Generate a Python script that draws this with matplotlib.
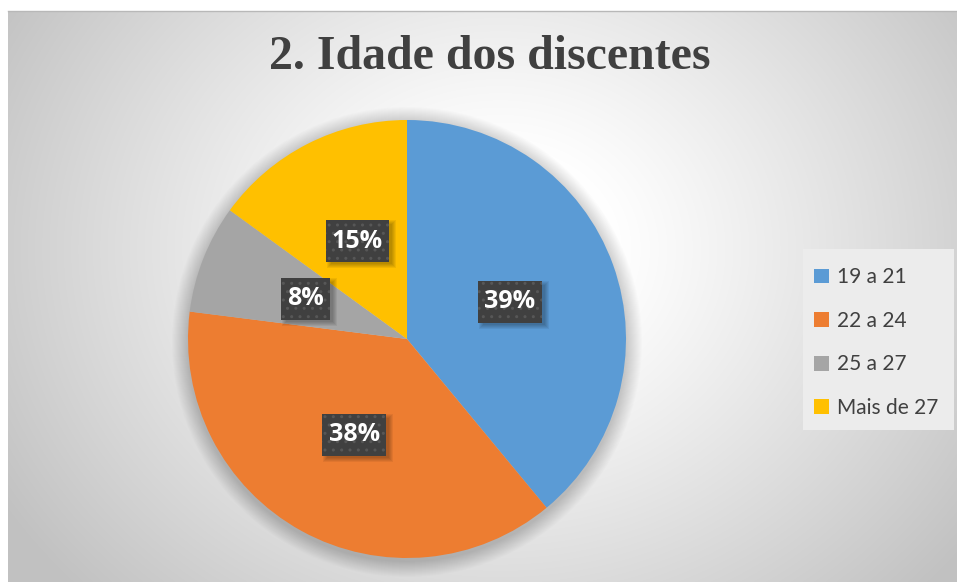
import numpy as np
import matplotlib
matplotlib.use("Agg")
import matplotlib.pyplot as plt
from matplotlib.patches import Circle, Rectangle

# Chart data
categories = ["19 a 21", "22 a 24", "25 a 27", "Mais de 27"]
shares = [39, 38, 8, 15]
colors = ["#5B9BD5", "#ED7D31", "#A5A5A5", "#FFC000"]
title = "2. Idade dos discentes"

W, H = 957, 582
fig = plt.figure(figsize=(W / 100, H / 100), dpi=100)
fig.patch.set_facecolor("white")

# Full-figure axes working in pixel units (y up)
ax = fig.add_axes([0, 0, 1, 1])
ax.set_xlim(0, W)
ax.set_ylim(0, H)
ax.set_aspect("equal")
ax.axis("off")

# Chart area with a radial grey-to-white background
x0, x1, y0, y1 = 8, W, 0, H - 11
yy, xx = np.mgrid[y0:y1, x0:x1]
cx, cy = 500, H - 250
r = np.hypot((xx - cx) / 1.0, (yy - cy) / 0.85)
t = np.clip((r - 110) / 470, 0, 1) ** 1.1
shade = 1.0 - 0.24 * t
img = np.dstack([shade, shade, shade])
ax.imshow(img, extent=(x0, x1, y0, y1), origin="lower", zorder=0,
          interpolation="bilinear")
ax.plot([x0, x1], [y1, y1], color="#b8b8b8", lw=1.0, zorder=1)

# Pie geometry
pcx, pcy, pr = 407, H - 339, 219

# Soft glow/shadow around the pie
for k in range(16):
    ax.add_patch(Circle((pcx, pcy - 3), pr + 16 - k, color="black",
                        alpha=0.012, lw=0, zorder=2))

wedges, _, autotexts = ax.pie(
    shares, colors=colors, startangle=90, counterclock=False,
    center=(pcx, pcy), radius=pr, autopct="%.0f%%", pctdistance=0.5,
    wedgeprops=dict(linewidth=0), frame=True,
    textprops=dict(color="white", fontsize=18, fontweight="bold",
                   family="Open Sans"))
for w in wedges:
    w.set_zorder(3)
ax.set_xlim(0, W)
ax.set_ylim(0, H)
ax.axis("off")

# Data labels: dark dotted boxes with a soft drop shadow
for t_ in autotexts:
    x, y = t_.get_position()
    label = t_.get_text()
    bw = 20 + 14.5 * len(label)
    bh = 42
    for k in range(5):
        ax.add_patch(Rectangle((x - bw / 2 + 5 - k, y - bh / 2 - 2 - k),
                               bw + 2 * k - 2, bh + 2 * k - 2, color="black",
                               alpha=0.06, lw=0, zorder=4))
    ax.add_patch(Rectangle((x - bw / 2, y - bh / 2), bw, bh,
                           facecolor="#404040", edgecolor="#575757",
                           hatch="..", lw=0, zorder=5))
    t_.set_zorder(6)
    t_.set_ha("center")
    t_.set_va("center")

# Title
ax.text(490, H - 57, title, ha="center", va="center", fontsize=34.5,
        fontweight="bold", family="Liberation Serif", color="#404040",
        zorder=7)

# Legend panel
ax.add_patch(Rectangle((803, H - 430), 151, 181, facecolor="#ececec",
                       edgecolor="none", zorder=1.5))
leg = ax.legend(wedges, categories, loc="upper left",
                bbox_to_anchor=(806 / W, 1 - 259 / H), frameon=False,
                prop=dict(family="Lato", size=15), labelcolor="#404040",
                handlelength=0.72, handleheight=0.72, handletextpad=0.35,
                labelspacing=1.13, borderaxespad=0)

fig.savefig("out.png", dpi=100)
